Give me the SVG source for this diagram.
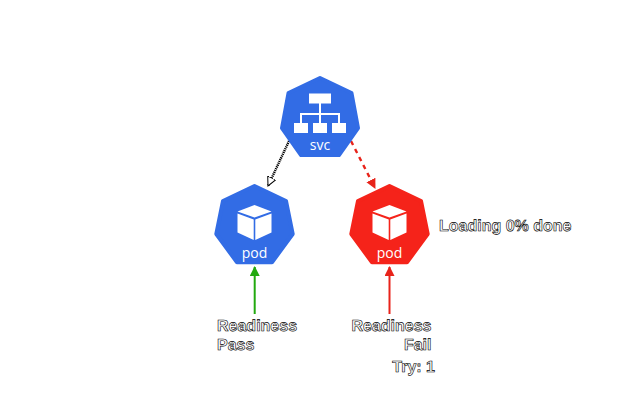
<svg xmlns="http://www.w3.org/2000/svg" width="640" height="400" viewBox="0 0 640 400">
<style>
.lbl{font-family:"Liberation Sans",Arial,sans-serif;font-weight:bold;font-size:16px;fill:#fff;stroke:#000;stroke-width:.6px;text-rendering:geometricPrecision}
.in{font-family:"Open Sans","Noto Sans",sans-serif;font-size:14px;fill:#fff;text-anchor:middle}
.hex{stroke-width:4;stroke-linejoin:round}
.w{fill:#fff}
</style>
<defs>
<marker id="ah" markerUnits="userSpaceOnUse" markerWidth="12" markerHeight="12" refX="9" refY="5" orient="auto"><path d="M0 0.5L9 5L0 9.5Z" fill="#fff" stroke="#000" stroke-width="1"/></marker>
<marker id="ar" markerUnits="userSpaceOnUse" markerWidth="12" markerHeight="12" refX="9" refY="5" orient="auto"><path d="M0 0L10 5L0 10Z" fill="#e8231a"/></marker>
<marker id="ag" markerUnits="userSpaceOnUse" markerWidth="12" markerHeight="12" refX="9" refY="5" orient="auto"><path d="M0 0L10 5L0 10Z" fill="#22a90f"/></marker>
</defs>
<g id="connectors">
<path d="M289 141L268 186" fill="none" stroke="#000" stroke-width="2.4" stroke-dasharray="1.2 .8" marker-end="url(#ah)"/>
<path d="M351 141L375 188" fill="none" stroke="#e8231a" stroke-width="2.4" stroke-dasharray="4.5 4.5" marker-end="url(#ar)"/>
<path d="M254.700 314V267" fill="none" stroke="#22a90f" stroke-width="2" marker-end="url(#ag)"/>
<path d="M389.500 314V267" fill="none" stroke="#e8231a" stroke-width="2" marker-end="url(#ar)"/>
</g>
<g id="svc">
<path class="hex" fill="#326ce5" stroke="#326ce5" d="M320 78L351.500 93L358 128L339 155H301L282 128L288.500 93Z"/>
<g class="w"><rect x="309" y="93.500" width="22" height="10"/><rect x="294" y="123" width="14" height="10"/><rect x="313" y="123" width="14" height="10"/><rect x="332" y="123" width="14" height="10"/></g>
<path d="M320 103V114M301 123V114H339V123M320 114V123" fill="none" stroke="#fff" stroke-width="2"/>
<text class="in" x="320" y="149.500">svc</text>
</g>
<g id="pod-ready">
<path class="hex" fill="#326ce5" stroke="#326ce5" d="M254.500 186L286 201L292.700 234L272 262.300H237L216.300 234L223 201Z"/>
<path class="w" d="M254.500 205L271.500 211.500L254.500 217.500L237.500 211.500ZM237.500 213.500L253.700 219.500V240L237.500 232.500ZM271.500 213.500V232.500L255.300 240V219.500Z"/>
<text class="in" x="254.500" y="257.500">pod</text>
</g>
<g id="pod-fail">
<path class="hex" fill="#f5231a" stroke="#f5231a" d="M389.500 186L421 201L427.700 234L407 262.300H372L351.300 234L358 201Z"/>
<path class="w" d="M389.500 205L406.500 211.500L389.500 217.500L372.500 211.500ZM372.500 213.500L388.700 219.500V240L372.500 232.500ZM406.500 213.500V232.500L390.300 240V219.500Z"/>
<text class="in" x="389.500" y="257.500">pod</text>
</g>
<g id="labels">
<text class="lbl" x="439" y="231">Loading 0% done</text>
<text class="lbl" x="217" y="331">Readiness</text>
<text class="lbl" x="217" y="350">Pass</text>
<text class="lbl" x="431.500" y="331" text-anchor="end">Readiness</text>
<text class="lbl" x="431.500" y="350" text-anchor="end">Fail</text>
<text class="lbl" x="435" y="372" text-anchor="end">Try: 1</text>
</g>
</svg>
